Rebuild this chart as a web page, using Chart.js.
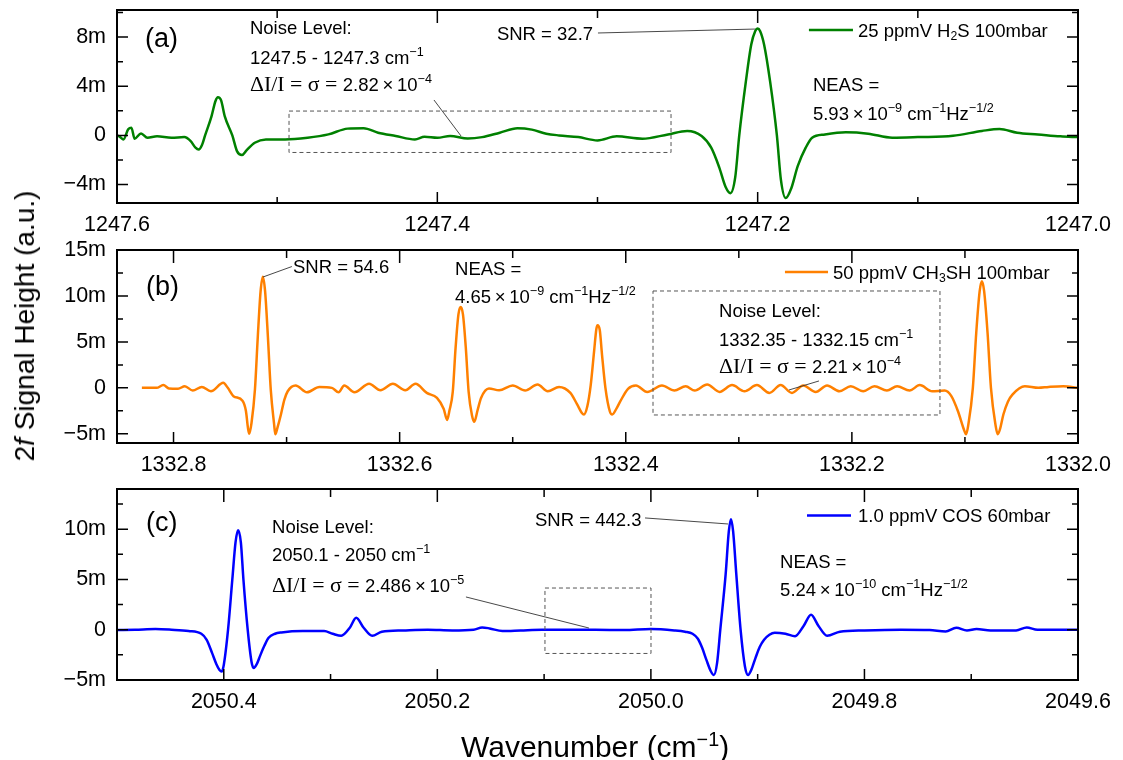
<!DOCTYPE html>
<html>
<head>
<meta charset="utf-8">
<script src="https://cdn.jsdelivr.net/npm/chart.js@4.4.1/dist/chart.umd.min.js"></script>
<style>
  body { margin:0; width:1123px; height:760px; background:#fff; position:relative; overflow:hidden; font-family:"Liberation Sans", Arial, sans-serif; color:#000; }
  canvas { position:absolute; left:0; }
  #ytitle { position:absolute; left:25px; top:326px; transform:translate(-50%,-50%) rotate(-90deg); font-size:28px; white-space:nowrap; line-height:1; }
  #xtitle { position:absolute; left:461px; top:732px; font-size:30px; white-space:nowrap; line-height:1; }
  sup { font-size:0.66em; vertical-align:0.55em; line-height:0; }
</style>
</head>
<body>
<canvas id="ca" width="1123" height="290" style="top:-40px"></canvas>
<canvas id="cb" width="1123" height="290" style="top:200px"></canvas>
<canvas id="cc" width="1123" height="321" style="top:439px"></canvas>
<div id="ytitle">2<i>f</i> Signal Height (a.u.)</div>
<div id="xtitle">Wavenumber (cm<sup>−1</sup>)</div>
<script>
const FONT = '"Liberation Sans", Arial, sans-serif';
const SERIF = '"Liberation Serif", "Times New Roman", serif';
const TIMES = '\u2009×\u2009';

// ---- (a) 25 ppmV H2S, signal in m (x1e-3 a.u.)
const aWave = [
  1247.600, 1247.598, 1247.596, 1247.593, 1247.591, 1247.589, 1247.585, 1247.581, 1247.575, 1247.566,
  1247.558, 1247.554, 1247.551, 1247.549, 1247.547, 1247.545, 1247.541, 1247.5385, 1247.537, 1247.535,
  1247.5327, 1247.528, 1247.525, 1247.522, 1247.519, 1247.514, 1247.507, 1247.495, 1247.481, 1247.468,
  1247.456, 1247.446, 1247.437, 1247.426, 1247.414, 1247.408, 1247.400, 1247.392, 1247.381, 1247.372,
  1247.361, 1247.350, 1247.341, 1247.332, 1247.324, 1247.312, 1247.300, 1247.288, 1247.272, 1247.256,
  1247.244, 1247.235, 1247.229, 1247.224, 1247.220, 1247.217, 1247.214, 1247.2115, 1247.2074, 1247.204,
  1247.2015, 1247.200, 1247.1985, 1247.196, 1247.1922, 1247.188, 1247.1855, 1247.1825, 1247.179, 1247.175,
  1247.170, 1247.166, 1247.158, 1247.145, 1247.131, 1247.116, 1247.100, 1247.078, 1247.060, 1247.049,
  1247.038, 1247.025, 1247.011, 1247.000
];
const aSignal = [
  0, -0.14, -0.33, 0.5, 0.63, -0.27, 0.16, -0.19, -0.08, -0.19,
  -0.14, -0.47, -1.0, -1.15, -0.8, 0, 1.55, 2.8, 3.1, 2.85,
  1.55, 0, -1.3, -1.6, -1.2, -0.6, -0.33, -0.33, -0.19, 0.08,
  0.55, 0.58, 0.22, -0.05, -0.33, -0.11, -0.19, -0.05, -0.25, -0.14,
  0.22, 0.58, 0.47, 0.14, 0, -0.14, -0.41, -0.08, -0.27, 0.08,
  0.36, -0.05, -1.0, -2.6, -4.2, -4.7, -3.4, 0, 4.35, 7.4,
  8.5, 8.7, 8.5, 7.4, 4.35, 0, -3.6, -5.1, -4.3, -2.5,
  -1.0, -0.19, 0.08, 0.25, 0.14, -0.19, -0.14, -0.03, 0.36, 0.52,
  0.22, 0.08, -0.08, -0.14
];

// ---- (b) 50 ppmV CH3SH
const bWave = [
  1332.828, 1332.815, 1332.809, 1332.804, 1332.796, 1332.790, 1332.783, 1332.775, 1332.767, 1332.756,
  1332.752, 1332.747, 1332.739, 1332.736, 1332.734, 1332.733, 1332.731, 1332.728, 1332.7255, 1332.723,
  1332.721, 1332.719, 1332.7165, 1332.714, 1332.711, 1332.710, 1332.708, 1332.705, 1332.702, 1332.699,
  1332.692, 1332.682, 1332.671, 1332.660, 1332.654, 1332.649, 1332.640, 1332.627, 1332.617, 1332.606,
  1332.595, 1332.586, 1332.576, 1332.567, 1332.561, 1332.558, 1332.556, 1332.553, 1332.5505, 1332.548,
  1332.546, 1332.544, 1332.5415, 1332.539, 1332.536, 1332.534, 1332.531, 1332.528, 1332.521, 1332.512,
  1332.500, 1332.489, 1332.478, 1332.469, 1332.459, 1332.449, 1332.443, 1332.439, 1332.437, 1332.434,
  1332.431, 1332.428, 1332.426, 1332.425, 1332.423, 1332.421, 1332.418, 1332.414, 1332.412, 1332.408,
  1332.405, 1332.398, 1332.391, 1332.381, 1332.368, 1332.357, 1332.347, 1332.339, 1332.328, 1332.317,
  1332.306, 1332.295, 1332.284, 1332.273, 1332.263, 1332.253, 1332.243, 1332.232, 1332.222, 1332.211,
  1332.201, 1332.190, 1332.180, 1332.169, 1332.160, 1332.149, 1332.140, 1332.129, 1332.118, 1332.112,
  1332.106, 1332.101, 1332.099, 1332.097, 1332.093, 1332.090, 1332.087, 1332.085, 1332.083, 1332.080,
  1332.077, 1332.073, 1332.071, 1332.069, 1332.066, 1332.062, 1332.058, 1332.047, 1332.035, 1332.026,
  1332.013, 1332.000
];
const bSignal = [
  0, 0, 0.3, -0.07, -0.1, 0.18, -0.3, 0.1, -0.37, 0.55,
  0, -0.9, -1.4, -2.5, -4.5, -5.0, -3.8, -0.2, 5.5, 10.5,
  12.1, 10.5, 5.5, -0.2, -4.0, -5.05, -4.3, -2.9, -1.3, -0.37,
  0.26, -0.48, 0.1, 0, -0.48, 0.26, -0.48, 0.44, -0.26, 0.44,
  -0.26, 0.44, -0.55, -1.1, -2.3, -3.5, -2.5, -0.4, 4.4, 8.0,
  8.8, 8.0, 4.4, -0.4, -3.0, -3.7, -2.4, -1.1, -0.07, -0.26,
  0.26, -0.3, 0.37, -0.37, 0.1, -0.55, -1.8, -2.7, -2.9, -2.0,
  0.3, 4.0, 6.4, 6.8, 6.3, 3.6, 0, -2.6, -2.9, -2.2,
  -1.5, -0.1, 0.26, -0.44, 0.26, -0.3, 0.18, -0.3, 0.37, -0.44,
  0.3, -0.37, 0.3, -0.55, 0.3, -0.55, 0.26, -0.44, 0.26, -0.37,
  0.18, -0.37, 0.18, -0.3, 0.18, -0.3, 0.3, -0.37, -0.3, -0.9,
  -2.6, -4.5, -5.05, -4.0, 0, 6.0, 10.5, 11.6, 10.5, 6.0,
  0, -4.0, -5.05, -4.5, -2.9, -1.5, -0.73, 0.18, 0, 0.1,
  0.18, 0
];

// ---- (c) 1.0 ppmV COS
const cWave = [
  2050.500, 2050.483, 2050.464, 2050.449, 2050.433, 2050.421, 2050.416, 2050.411, 2050.407, 2050.404,
  2050.402, 2050.400, 2050.396, 2050.392, 2050.389, 2050.3866, 2050.384, 2050.3816, 2050.3776, 2050.374,
  2050.372, 2050.369, 2050.366, 2050.362, 2050.358, 2050.352, 2050.346, 2050.326, 2050.306, 2050.298,
  2050.290, 2050.282, 2050.276, 2050.269, 2050.261, 2050.252, 2050.232, 2050.209, 2050.186, 2050.166,
  2050.158, 2050.151, 2050.139, 2050.122, 2050.102, 2050.086, 2050.052, 2050.025, 2050.000, 2049.978,
  2049.968, 2049.961, 2049.956, 2049.952, 2049.948, 2049.944, 2049.941, 2049.938, 2049.935, 2049.930,
  2049.927, 2049.925, 2049.923, 2049.920, 2049.916, 2049.912, 2049.909, 2049.906, 2049.902, 2049.898,
  2049.894, 2049.889, 2049.884, 2049.874, 2049.865, 2049.857, 2049.850, 2049.843, 2049.835, 2049.823,
  2049.800, 2049.766, 2049.739, 2049.724, 2049.714, 2049.704, 2049.695, 2049.682, 2049.658, 2049.648,
  2049.638, 2049.600
];
const cSignal = [
  -0.03, 0, 0.07, 0, -0.13, -0.4, -1.0, -2.3, -3.4, -4.0,
  -4.16, -3.5, 0, 5.0, 8.7, 9.9, 8.7, 5.0, 0, -3.2,
  -3.8, -3.4, -2.6, -1.6, -0.8, -0.4, -0.27, -0.13, -0.13, -0.4,
  -0.6, 0.2, 1.2, 0.2, -0.6, -0.2, -0.07, 0, -0.07, 0,
  0.23, 0.13, -0.13, -0.07, 0, 0, 0, -0.03, 0.07, -0.07,
  -0.2, -0.4, -0.9, -1.8, -3.0, -4.1, -4.5, -3.3, 0, 5.5,
  9.8, 11.0, 9.8, 5.5, 0, -3.6, -4.5, -4.0, -2.8, -1.7,
  -1.0, -0.5, -0.3, -0.4, -0.64, 0.37, 1.48, 0.37, -0.6, -0.2,
  -0.07, 0, -0.03, -0.17, 0.2, -0.07, 0.07, -0.07, -0.07, 0.23,
  0, 0
];

// text, boxes and leader lines, placed in data coordinates of each panel
const NOTES = {
  ca: [
    { kind: 'text', x: 1247.5825, y: 8.0, size: 27, segs: [['(a)']] },
    { kind: 'text', x: 1247.517, y: 8.82, segs: [['Noise Level:']] },
    { kind: 'text', x: 1247.517, y: 6.38, segs: [['1247.5 - 1247.3 cm'], ['−1', 'sup']] },
    { kind: 'text', x: 1247.517, y: 4.15, segs: [['ΔI/I = σ = ', 'serif'], ['2.82' + TIMES + '10'], ['−4', 'sup']] },
    { kind: 'box', x1: 1247.4926, y1: 1.98, x2: 1247.2541, y2: -1.39 },
    { kind: 'lead', x1: 1247.4021, y1: 2.88, x2: 1247.3852, y2: -0.05 },
    { kind: 'text', x: 1247.3628, y: 8.33, segs: [['SNR = 32.7']] },
    { kind: 'lead', x1: 1247.2997, y1: 8.33, x2: 1247.2017, y2: 8.65 },
    { kind: 'key', x1: 1247.168, x2: 1247.1405, y: 8.57, color: 'rgb(0,128,0)' },
    { kind: 'text', x: 1247.1374, y: 8.57, segs: [['25 ppmV H'], ['2', 'sub'], ['S 100mbar']] },
    { kind: 'text', x: 1247.1655, y: 4.12, segs: [['NEAS =']] },
    { kind: 'text', x: 1247.1655, y: 1.80, segs: [['5.93' + TIMES + '10'], ['−9', 'sup'], [' cm'], ['−1', 'sup'], ['Hz'], ['−1/2', 'sup']] }
  ],
  cb: [
    { kind: 'text', x: 1332.8243, y: 11.14, size: 27, segs: [['(b)']] },
    { kind: 'text', x: 1332.6943, y: 13.2, segs: [['SNR = 54.6']] },
    { kind: 'lead', x1: 1332.7209, y1: 12.06, x2: 1332.6953, y2: 13.2 },
    { kind: 'text', x: 1332.551, y: 13.0, segs: [['NEAS =']] },
    { kind: 'text', x: 1332.551, y: 9.95, segs: [['4.65' + TIMES + '10'], ['−9', 'sup'], [' cm'], ['−1', 'sup'], ['Hz'], ['−1/2', 'sup']] },
    { kind: 'key', x1: 1332.2592, x2: 1332.2211, y: 12.61, color: 'rgb(255,128,0)' },
    { kind: 'text', x: 1332.2167, y: 12.61, segs: [['50 ppmV CH'], ['3', 'sub'], ['SH 100mbar']] },
    { kind: 'box', x1: 1332.3759, y1: 10.54, x2: 1332.1221, y2: -2.95 },
    { kind: 'text', x: 1332.3175, y: 8.40, segs: [['Noise Level:']] },
    { kind: 'text', x: 1332.3175, y: 5.32, segs: [['1332.35 - 1332.15 cm'], ['−1', 'sup']] },
    { kind: 'text', x: 1332.3175, y: 2.38, segs: [['ΔI/I = σ = ', 'serif'], ['2.21' + TIMES + '10'], ['−4', 'sup']] },
    { kind: 'lead', x1: 1332.2291, y1: 0.75, x2: 1332.2556, y2: -0.23 }
  ],
  cc: [
    { kind: 'text', x: 2050.4728, y: 10.77, size: 27, segs: [['(c)']] },
    { kind: 'text', x: 2050.3548, y: 10.3, segs: [['Noise Level:']] },
    { kind: 'text', x: 2050.3548, y: 7.5, segs: [['2050.1 - 2050 cm'], ['−1', 'sup']] },
    { kind: 'text', x: 2050.3548, y: 4.45, segs: [['ΔI/I = σ = ', 'serif'], ['2.486' + TIMES + '10'], ['−5', 'sup']] },
    { kind: 'lead', x1: 2050.1732, y1: 3.26, x2: 2050.058, y2: 0.17 },
    { kind: 'box', x1: 2050.0992, y1: 4.15, x2: 2049.9999, y2: -2.36 },
    { kind: 'text', x: 2050.1085, y: 11.02, segs: [['SNR = 442.3']] },
    { kind: 'lead', x1: 2050.0055, y1: 11.12, x2: 2049.9278, y2: 10.52 },
    { kind: 'key', x1: 2049.8538, x2: 2049.8126, y: 11.36, color: 'rgb(0,0,255)' },
    { kind: 'text', x: 2049.806, y: 11.36, segs: [['1.0 ppmV COS 60mbar']] },
    { kind: 'text', x: 2049.879, y: 6.78, segs: [['NEAS =']] },
    { kind: 'text', x: 2049.879, y: 4.0, segs: [['5.24' + TIMES + '10'], ['−10', 'sup'], [' cm'], ['−1', 'sup'], ['Hz'], ['−1/2', 'sup']] }
  ]
};

// draws text runs with super/subscripts, y is the middle of the line
function richText(ctx, segs, x, yMid, size) {
  let cx = x;
  const base = yMid + size * 0.36;
  ctx.textBaseline = 'alphabetic';
  ctx.textAlign = 'left';
  ctx.fillStyle = '#000';
  for (const [t, kind] of segs) {
    let fs = size, fam = FONT, dy = 0;
    if (kind === 'sup') { fs = size * 0.68; dy = -size * 0.42; }
    if (kind === 'sub') { fs = size * 0.66; dy = size * 0.2; }
    if (kind === 'serif') { fs = size * 1.18; fam = SERIF; }
    ctx.font = fs + 'px ' + fam;
    ctx.fillText(t, cx, base + dy);
    cx += ctx.measureText(t).width;
  }
}

// inward ticks on all four sides, box frame, then the notes
const frameNotes = {
  id: 'frameNotes',
  afterDatasetsDraw(chart) {
    const { ctx, chartArea: a, scales: { x, y } } = chart;
    ctx.save();
    ctx.strokeStyle = '#000';
    ctx.lineWidth = 1.5;
    ctx.beginPath();
    x.ticks.forEach(t => {
      const p = x.getPixelForValue(t.value);
      const len = t.label ? 11 : 6;
      ctx.moveTo(p, a.bottom); ctx.lineTo(p, a.bottom - len);
      ctx.moveTo(p, a.top); ctx.lineTo(p, a.top + len + 2);
    });
    y.ticks.forEach(t => {
      const p = y.getPixelForValue(t.value);
      const len = t.label ? 11 : 6;
      ctx.moveTo(a.left, p); ctx.lineTo(a.left + len, p);
      ctx.moveTo(a.right, p); ctx.lineTo(a.right - len, p);
    });
    ctx.stroke();
    ctx.lineWidth = 2;
    ctx.strokeRect(a.left, a.top, a.right - a.left, a.bottom - a.top);

    const X = v => x.getPixelForValue(v), Y = v => y.getPixelForValue(v);
    for (const n of NOTES[chart.canvas.id] || []) {
      if (n.kind === 'box') {
        ctx.setLineDash([4, 3]);
        ctx.strokeStyle = '#555';
        ctx.lineWidth = 1;
        ctx.strokeRect(X(n.x1), Y(n.y1), X(n.x2) - X(n.x1), Y(n.y2) - Y(n.y1));
        ctx.setLineDash([]);
      } else if (n.kind === 'lead') {
        ctx.strokeStyle = '#333';
        ctx.lineWidth = 0.9;
        ctx.beginPath(); ctx.moveTo(X(n.x1), Y(n.y1)); ctx.lineTo(X(n.x2), Y(n.y2)); ctx.stroke();
      } else if (n.kind === 'key') {
        ctx.strokeStyle = n.color;
        ctx.lineWidth = 2.5;
        ctx.beginPath(); ctx.moveTo(X(n.x1), Y(n.y)); ctx.lineTo(X(n.x2), Y(n.y)); ctx.stroke();
      } else {
        richText(ctx, n.segs, X(n.x), Y(n.y), n.size || 18.5);
      }
    }
    ctx.restore();
  }
};

function fmtY(v, every) {
  if (Math.abs(v % every) > 1e-9) return '';
  if (v === 0) return '0';
  return (v < 0 ? '−' : '') + Math.abs(v) + 'm';
}

function makePanel(id, wave, signal, color, xMin, xMax, yMin, yMax, yStep, yEvery, xAxisH) {
  return new Chart(document.getElementById(id), {
    type: 'line',
    data: {
      datasets: [{
        data: wave.map((w, i) => ({ x: w, y: signal[i] })),
        borderColor: color,
        borderWidth: 2.5,
        pointRadius: 0,
        cubicInterpolationMode: 'monotone',
        fill: false
      }]
    },
    options: {
      responsive: false,
      animation: false,
      devicePixelRatio: 1,
      events: [],
      layout: { padding: { top: 50, right: 45, left: 0, bottom: 0 } },
      plugins: { legend: { display: false }, tooltip: { enabled: false } },
      scales: {
        x: {
          type: 'linear', reverse: true, min: xMin, max: xMax,
          afterFit: s => { s.height = xAxisH; },
          grid: { display: false, drawTicks: false },
          border: { display: false },
          ticks: {
            stepSize: 0.1, includeBounds: false, autoSkip: false, maxRotation: 0,
            padding: 9, color: '#000', font: { family: FONT, size: 21.5 },
            callback: v => Math.round(v * 10) % 2 === 0 ? v.toFixed(1) : ''
          }
        },
        y: {
          min: yMin, max: yMax,
          afterFit: s => { s.width = 117; },
          grid: { display: false, drawTicks: false },
          border: { display: false },
          ticks: {
            stepSize: yStep, includeBounds: false, autoSkip: false,
            padding: 11, color: '#000', font: { family: FONT, size: 21.5 },
            callback: v => fmtY(v, yEvery)
          }
        }
      }
    },
    plugins: [frameNotes]
  });
}

makePanel('ca', aWave, aSignal, 'rgb(0,128,0)', 1247.0, 1247.6, -5.5, 10.2, 2, 4, 47);
makePanel('cb', bWave, bSignal, 'rgb(255,128,0)', 1332.0, 1332.85, -6, 15, 2.5, 5, 47);
makePanel('cc', cWave, cSignal, 'rgb(0,0,255)', 2049.6, 2050.5, -5, 14, 2.5, 5, 80);
</script>
</body>
</html>
